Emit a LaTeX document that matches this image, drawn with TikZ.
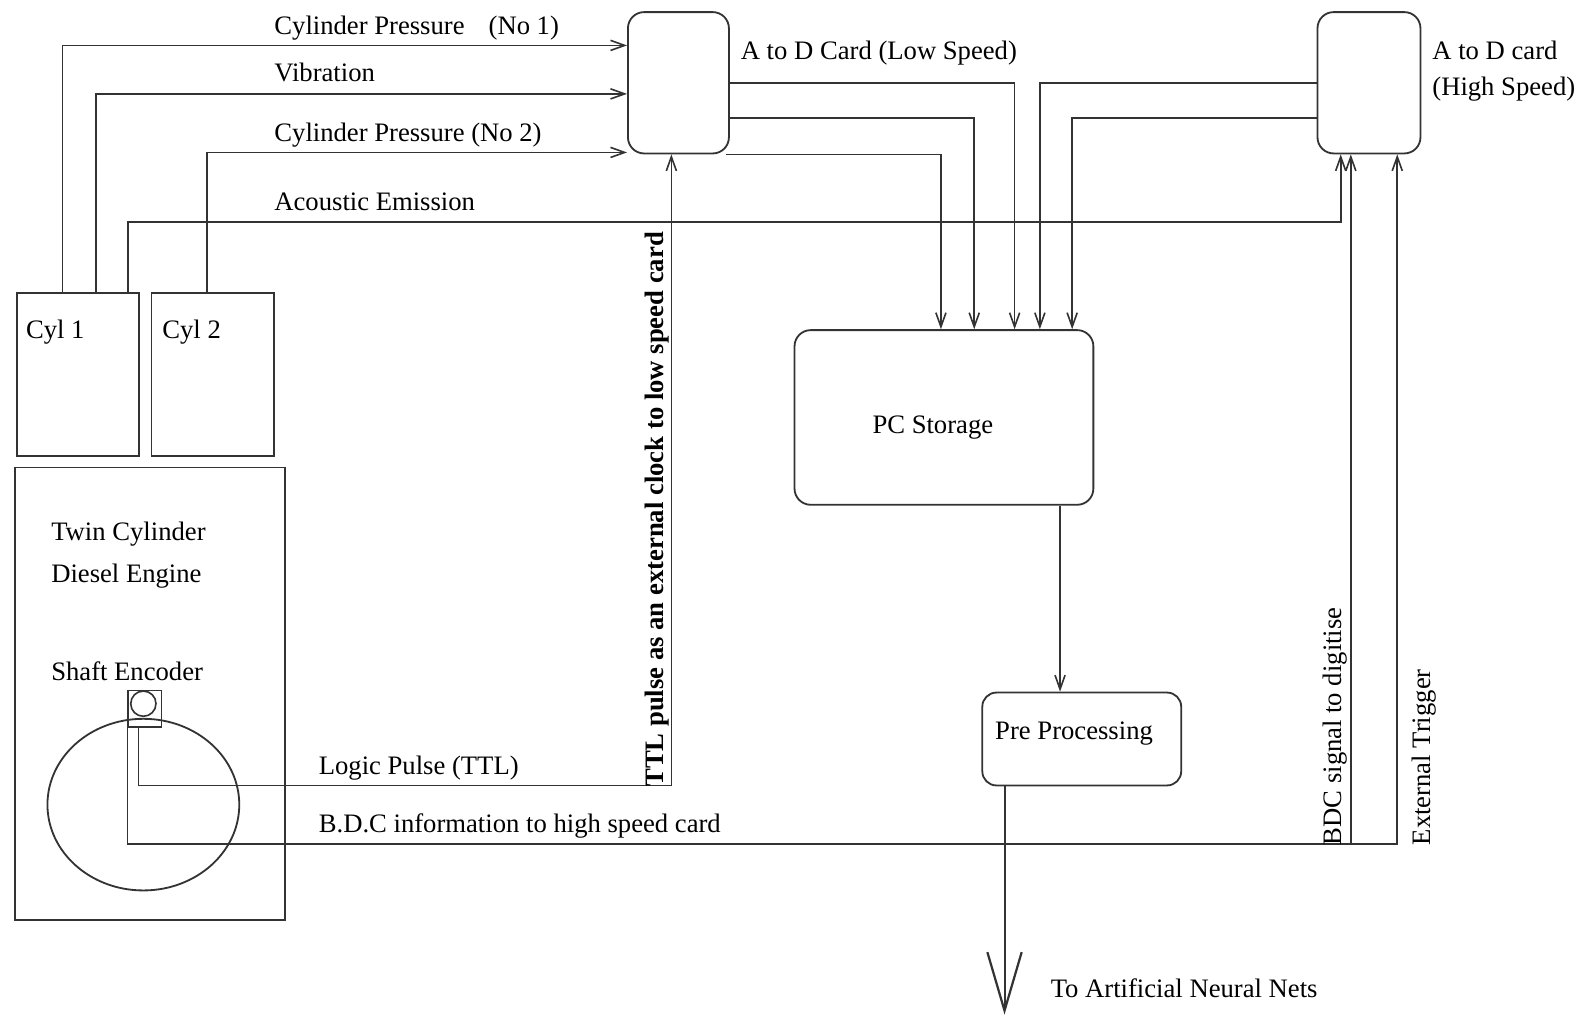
\documentclass[tikz,border=0pt]{standalone}
\usepackage{fontspec}
\setmainfont{Liberation Serif}
\usetikzlibrary{arrows.meta,calc,shapes.geometric}
\begin{document}
\begin{tikzpicture}[x=0.5pt,y=-0.5pt,line width=0.8pt,
  sq/.style={draw=black!80, line width=0.9pt, inner sep=0pt},
  rbox/.style={sq, rounded corners=8pt},
  lbl/.style={anchor=base west, inner sep=0pt, font=\fontsize{13.2}{15}\selectfont},
  vlbl/.style={lbl, rotate=90},
  wire/.style={draw=black!80},
  arr/.style={wire, -{Straight Barb[length=7pt,width=5pt]}},
  bigarr/.style={wire, line width=1pt, -{Straight Barb[length=29pt,width=17pt,line width=1.1pt]}}]
\useasboundingbox (0,0) rectangle (1568,1010);

% boxes
\node[sq, minimum width=60.5pt, minimum height=81pt] (cyl1) at (77.5,371) {};
\node[sq, minimum width=60.5pt, minimum height=81pt] (cyl2) at (210.5,371) {};
\node[sq, minimum width=133.5pt, minimum height=224pt] (eng) at (148.5,687) {};
\node[draw=black!80, line width=0.9pt, ellipse, inner sep=0pt, minimum width=95pt, minimum height=85pt] (enc) at (142,797) {};
\node[sq, minimum width=16.5pt, minimum height=18pt] (encsq) at (143.5,702) {};
\node[draw=black!80, line width=0.8pt, circle, inner sep=0pt, minimum size=12.5pt] (encc) at (142,697) {};
\node[rbox, minimum width=50pt, minimum height=70pt] (lsc) at (672,82) {};
\node[rbox, minimum width=51pt, minimum height=70pt] (hsc) at (1356,82) {};
\node[rbox, minimum width=148pt, minimum height=86.5pt] (pc) at (935,413.5) {};
\node[rbox, rounded corners=7pt, minimum width=98.5pt, minimum height=46pt] (pre) at (1071.5,732) {};

% helper coordinates
\coordinate (yCPa) at (0,45);
\coordinate (yVIB) at (0,93);
\coordinate (yCPb) at (0,151);
\coordinate (yAE) at (0,220);
\coordinate (yO1) at (0,82);
\coordinate (yO2) at (0,117);
\coordinate (yLP) at (0,778);
\coordinate (yBDC) at (0,836);
\coordinate (xA) at (62,0);
\coordinate (xB) at (95,0);
\coordinate (xC) at (127,0);
\coordinate (xD) at (205,0);
\coordinate (xAE) at (1328,0);
\coordinate (xP0) at (932,0);
\coordinate (xP2) at (965,0);
\coordinate (xP1) at (1005,0);
\coordinate (xP3) at (1030,0);
\coordinate (xP4) at (1062,0);
\coordinate (xQ) at (1050,0);
\coordinate (xLP) at (137,0);
\coordinate (xTTL) at (665,0);
\coordinate (xBa) at (1338,0);
\coordinate (xBb) at (1384,0);
\coordinate (ann) at (995,1005);

% sensor lines
\draw[arr] (cyl1.north -| xA) |- (lsc.west |- yCPa);
\draw[arr] (cyl1.north -| xB) |- (lsc.west |- yVIB);
\draw[arr] (cyl2.north -| xD) |- (lsc.west |- yCPb);
\draw[arr] (cyl1.north -| xC) |- (xAE |- yAE) -- (xAE |- hsc.south);

% card outputs to PC
\draw[arr] (lsc.east |- yO1) -| (xP1 |- pc.north);
\draw[arr] (lsc.east |- yO2) -| (xP2 |- pc.north);
\draw[arr] ([xshift=-2pt]lsc.south east) -| (xP0 |- pc.north);
\draw[arr] (hsc.west |- yO1) -| (xP3 |- pc.north);
\draw[arr] (hsc.west |- yO2) -| (xP4 |- pc.north);

% PC -> pre -> out
\draw[arr] (xQ |- pc.south) -- (xQ |- pre.north);
\draw[bigarr] (ann |- pre.south) -- (ann);

% encoder lines
\draw[arr] (encsq.south -| xLP) |- (xTTL |- yLP) -- (xTTL |- lsc.south);
\draw[arr] (encsq.south west) |- (xBb |- yBDC) -- (xBb |- hsc.south);
\draw[arr] (xBa |- yBDC) -- (xBa |- hsc.south);

% labels
\node[lbl] (tCPa) at (271,34) {Cylinder Pressure\hspace{0.9em}(No 1)};
\node[lbl] (tVIB) at (271,81) {Vibration};
\node[lbl] (tCPb) at (271,140) {Cylinder Pressure (No 2)};
\node[lbl] (tAE) at (271,209) {Acoustic Emission};
\node[lbl] (tLSC) at (733,59) {A to D Card (Low Speed)};
\node[lbl] (tHSCa) at (1418,59) {A to D card};
\node[lbl] (tHSCb) at (1418,95) {(High Speed)};
\node[lbl] (tCyl1) at (25,335) {Cyl 1};
\node[lbl] (tCyl2) at (160,335) {Cyl 2};
\node[lbl, anchor=base] (tPC) at (924,429) {PC Storage};
\node[lbl] (tPre) at (985,732) {Pre Processing};
\node[lbl] (tTwin) at (50,535) {Twin Cylinder};
\node[lbl] (tDiesel) at (50,577) {Diesel Engine};
\node[lbl] (tShaft) at (50,674) {Shaft Encoder};
\node[lbl] (tLogic) at (315,767) {Logic Pulse (TTL)};
\node[lbl] (tBDCi) at (315,825) {B.D.C information to high speed card};
\node[lbl] (tANN) at (1040,988) {To Artificial Neural Nets};
\node[vlbl, font=\fontsize{13.2}{15}\selectfont\bfseries] (tTTL) at (657,780) {TTL pulse as an external clock to low speed card};
\node[vlbl] (tBDCs) at (1329,838) {BDC signal to digitise};
\node[vlbl] (tExt) at (1417,838) {External Trigger};
\end{tikzpicture}
\end{document}
